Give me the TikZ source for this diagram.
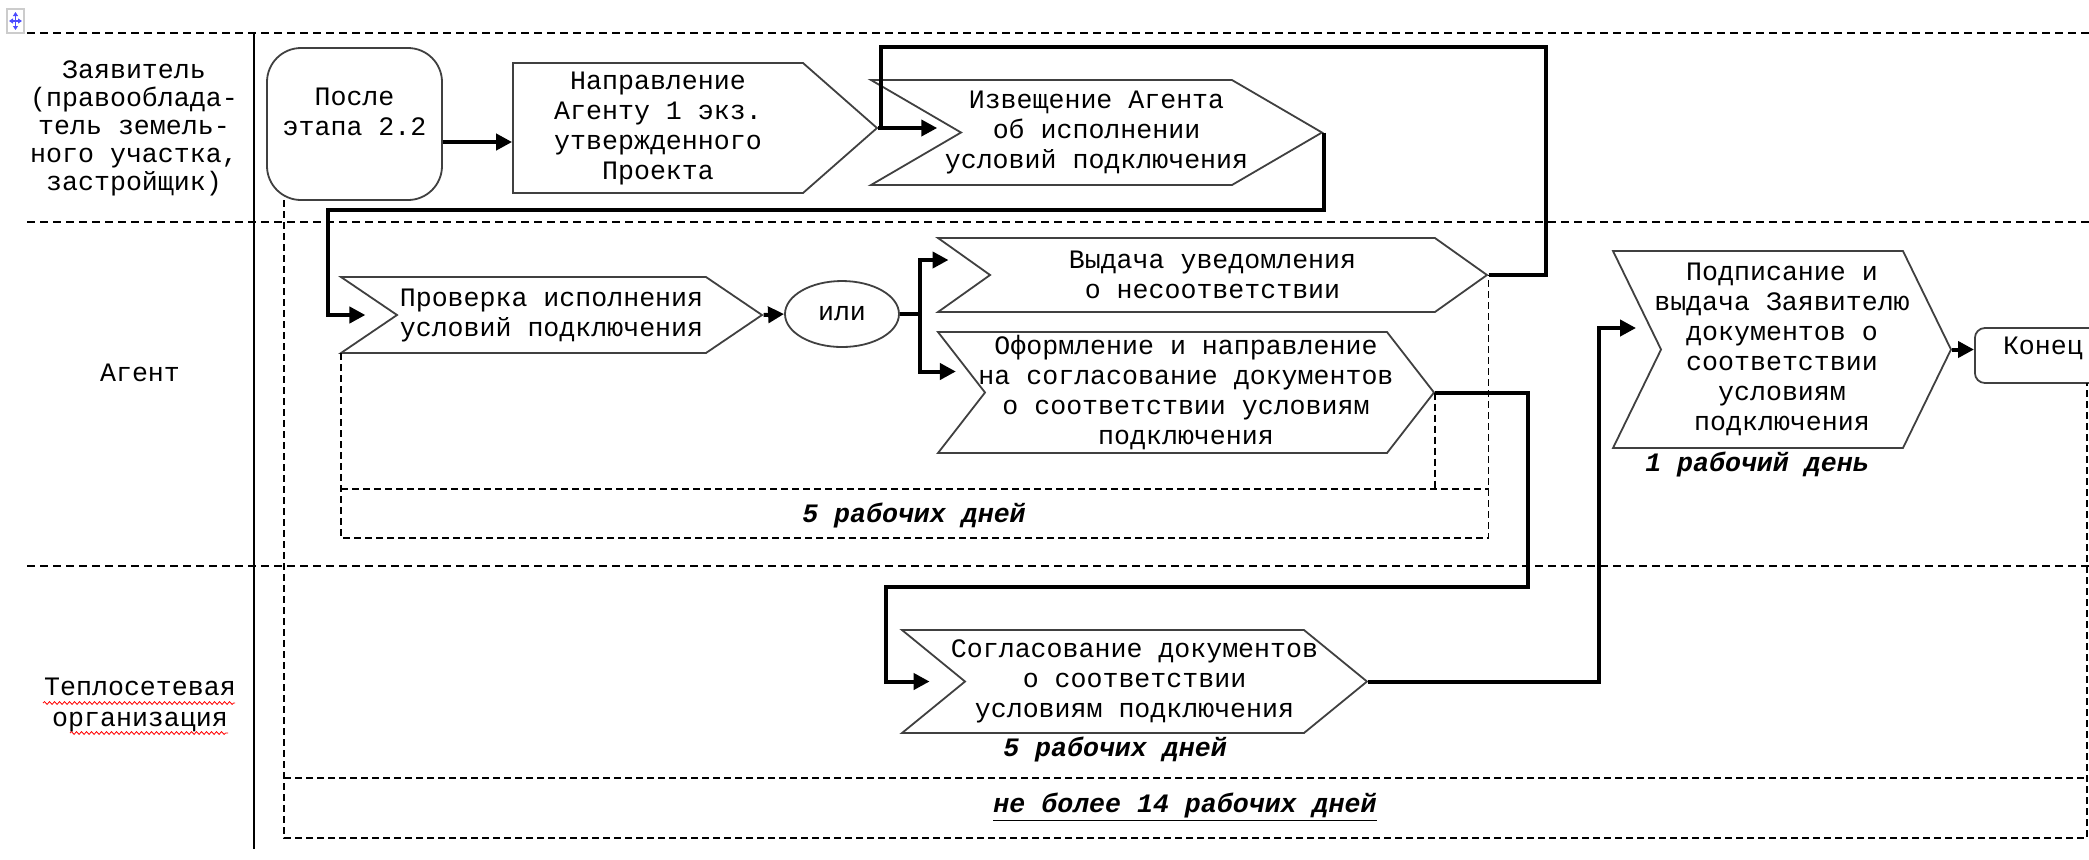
\documentclass[tikz,border=0pt]{standalone}
\usepackage{fontspec}
\newfontfamily\cour{Liberation Mono}
\usetikzlibrary{arrows.meta,positioning,shapes.symbols,shapes.geometric,calc,decorations.pathmorphing}
\newcommand{\txtfont}{\cour\fontsize{13.3}{15}\selectfont}

\begin{document}
\begin{tikzpicture}[x=0.5pt, y=-0.5pt, >={Triangle[length=8pt,width=8pt]},
    lane/.style={line width=1pt, dash pattern=on 4pt off 2.5pt},
    brk/.style={line width=0.7pt, dash pattern=on 3.5pt off 2pt},
    blk/.style={draw=black!75, line width=0.9pt, fill=white, align=center, font=\txtfont, inner xsep=-10pt, inner ysep=0pt},
    pent/.style={blk, signal, signal to=east},
    chev/.style={blk, signal, signal from=west, signal to=east},
    conn/.style={line width=2pt, ->},
    wire/.style={line width=2pt},
    dur/.style={font=\txtfont\bfseries\itshape},
    lbl/.style={font=\txtfont, align=center},
    spell/.style={red, line width=0.4pt, decorate, decoration={snake, segment length=2.5pt, amplitude=0.7pt}}]

  \useasboundingbox (0,0) rectangle (2089,859);

  % Handle
  \draw[gray!40, line width=0.6pt] (7,9) rectangle (24,33);
  \draw[blue!70, line width=0.8pt, <->, >={Triangle[length=2pt,width=2.5pt]}] (15.5,12) -- (15.5,30);
  \draw[blue!70, line width=0.8pt, <->, >={Triangle[length=2pt,width=2.5pt]}] (9,21) -- (22,21);

  % Lanes
  \draw[lane] (27,33) -- (2089,33);
  \draw[lane] (27,222) -- (2089,222);
  \draw[lane] (27,566) -- (2089,566);
  \draw[line width=1pt] (254,33) -- (254,849);

  \node[lbl, font=\cour\fontsize{13.3}{14}\selectfont] (zayav) at (134,128) {Заявитель\\(правооблада-\\тель земель-\\ного участка,\\застройщик)};
  \node[lbl] (agent) at (140,373) {Агент};
  \node[lbl, font=\cour\fontsize{13.3}{15.5}\selectfont] (teplo) at (140,705) {Теплосетевая\\организация};
  \draw[spell] (43,703) -- (235,703);
  \draw[spell] (70,733) -- (228,733);

  % Blocks
  \node[blk, inner xsep=0pt, rounded corners=17pt, minimum width=87.5pt, minimum height=76pt] (posle) at (354.5,124) {После\\этапа 2.2\\[-3pt]\mbox{}};
  \node[pent, minimum width=182pt, minimum height=65pt, signal pointer angle=82.6] (napr) at (658,128) {Направление\\Агенту 1 экз.\\утвержденного\\Проекта};
  \node[chev, minimum width=225.5pt, minimum height=52.5pt, signal pointer angle=60.5] (izv) at (1096.5,132.5) {Извещение Агента\\об исполнении\\условий подключения};
  \node[chev, minimum width=210.5pt, minimum height=38pt, signal pointer angle=68.3] (prov) at (551.5,315) {Проверка исполнения\\условий подключения};
  \node[draw=black!75, line width=0.9pt, ellipse, minimum width=57pt, minimum height=33pt, font=\txtfont, inner sep=0pt] (ili) at (842,314) {или};
  \node[chev, minimum width=274.5pt, minimum height=37pt, signal pointer angle=70.8] (vyd) at (1212.5,275) {Выдача уведомления\\о несоответствии};
  \node[chev, minimum width=248pt, minimum height=60.5pt, signal pointer angle=104.3] (ofo) at (1186,392.5) {Оформление и направление\\на согласование документов\\о соответствии условиям\\подключения};
  \node[chev, minimum width=232.5pt, minimum height=51.5pt, signal pointer angle=78.5] (sog) at (1134.5,681.5) {Согласование документов\\о соответствии\\условиям подключения};
  \node[chev, minimum width=169pt, minimum height=98.5pt, signal pointer angle=128] (pod) at (1782,349.5) {Подписание и\\выдача Заявителю\\документов о\\соответствии\\условиям\\подключения};
  \node[blk, inner xsep=0pt, rounded corners=5pt, minimum width=68pt, minimum height=27.5pt, anchor=west] (kon) at (1974,355.5) {Конец\\[-5pt]\mbox{}};

  % Connectors
  \draw[conn] ([yshift=-9pt]posle.east) -- ([yshift=-9pt]posle.east -| napr.west);
  \coordinate (jn) at ($(napr.east)+(3,0)$);
  \draw[conn, shorten >=11pt] (napr.east) -- (napr.east -| izv.west);
  \coordinate (topR) at (1546,47);
  \draw[wire] (vyd.east) -| (topR) -| (jn);
  \coordinate (loopA) at (328,210);
  \draw[conn, shorten >=15pt] (izv.east) |- (loopA) |- (prov.west);
  \draw[conn] (prov.east) -- (ili.west);
  \coordinate (fork) at (920,314);
  \draw[wire] (ili.east) -- (fork);
  \draw[conn, shorten >=20pt] (fork) |- ([yshift=7.5pt]vyd.west);
  \draw[conn, shorten >=14pt] (fork) |- ([yshift=10.5pt]ofo.west);
  \coordinate (dropR) at (1528,587);
  \coordinate (dropL) at (886,587);
  \draw[conn, shorten >=17pt] (ofo.east) -| (dropR) -- (dropL) |- (sog.west);
  \coordinate (riseB) at (1599,681.5);
  \draw[conn, shorten >=12pt] (sog.east) -- (riseB) |- ([yshift=10.75pt]pod.west);
  \draw[conn] (pod.east) -- (pod.east -| kon.west);

  % Durations
  \coordinate (d5tl) at (341,353);
  \coordinate (d5m) at (0,489);
  \coordinate (d5b) at (0,538);
  \draw[brk] (d5tl) |- (d5b -| vyd.east) -- (vyd.east);
  \draw[brk] (d5tl |- d5m) -- (d5m -| vyd.east);
  \draw[brk] (ofo.east) -- (ofo.east |- d5m);
  \node[dur] (d5agent) at (914,515) {5 рабочих дней};
  \node[dur] (d5sog) at (1115,749) {5 рабочих дней};
  \node[dur] (d1pod) at (1757,464) {1 рабочий день};

  \draw[brk] (284,200) -- (284,838) -- (2087,838) -- (2087,383);
  \draw[brk] (284,778) -- (2087,778);
  \node[dur] (d14) at (1185,807) {\underline{не более 14 рабочих дней}};
\end{tikzpicture}
\end{document}
